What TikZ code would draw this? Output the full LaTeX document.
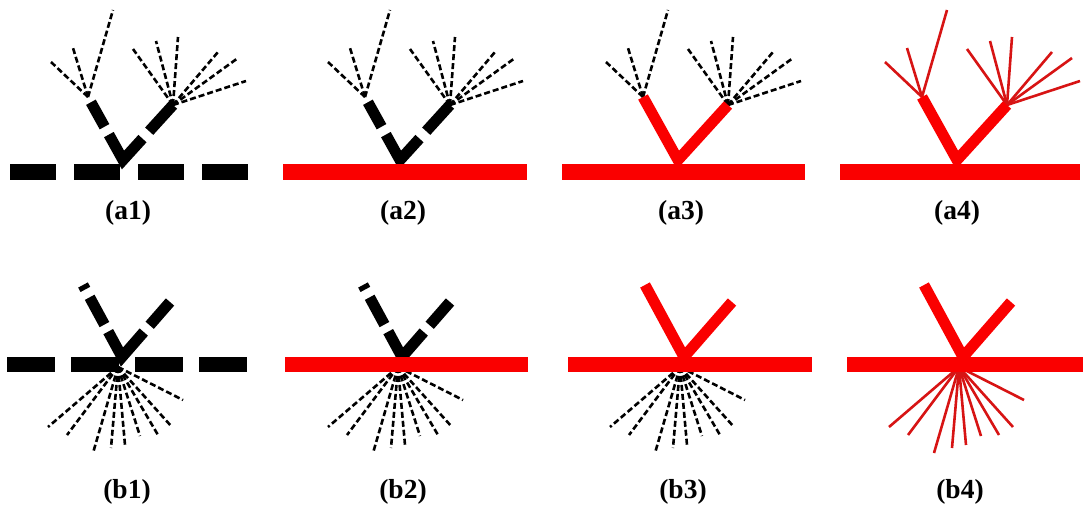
\documentclass[tikz,border=0pt]{standalone}
\usepackage{fontspec}
\setmainfont{Liberation Serif}
\definecolor{rd}{RGB}{250,0,0}
\definecolor{rdthin}{RGB}{215,20,20}

% Upper row: a stem branching in a V above the base bar, each arm ending in a fan
% #1 name, #2 junction x, #3/#4 bar ends, #5 bar style, #6 arm style, #7 fan style, #8 label x
\newcommand\drawpanelA[8]{%
  \coordinate (#1J) at (#2,160);
  \coordinate (#1L) at ([shift={(-35,-63)}]#1J);
  \coordinate (#1R) at ([shift={(50,-55)}]#1J);
  \coordinate (#1B0) at (#3,172);
  \coordinate (#1B1) at (#4,172);
  \foreach \dx/\dy in {-37/-35,-15/-49,25/-87}
    \draw[#7] (#1L) -- ++(\dx,\dy);
  \foreach \dx/\dy in {-40/-56,-17/-64,5/-68,45/-53,65/-47,73/-24}
    \draw[#7] (#1R) -- ++(\dx,\dy);
  \draw[#6] (#1L) -- (#1J) -- (#1R);
  \draw[#5, line width=16pt] (#1B0) -- (#1B1);
  \node[lab] (#1lab) at (#8,213) {(#1)};
}

% Lower row: the V crosses the base bar and a fan spreads below it
\newcommand\drawpanelB[8]{%
  \coordinate (#1J) at (#2,357);
  \coordinate (#1L) at ([shift={(-39,-72)}]#1J);
  \coordinate (#1R) at ([shift={(48,-55)}]#1J);
  \coordinate (#1O) at ([shift={(-4,10)}]#1J);
  \coordinate (#1B0) at (#3,364);
  \coordinate (#1B1) at (#4,364);
  \foreach \dx/\dy in {-70/60,-51/68,-25/86,-7/81,7/78,22/69,40/68,54/60,65/33}
    \draw[#7] (#1O) -- ++(\dx,\dy);
  \draw[#6] (#1L) -- (#1J) -- (#1R);
  \draw[#5, line width=15pt] (#1B0) -- (#1B1);
  \node[lab] (#1lab) at (#8,492) {(#1)};
}

\begin{document}
\begin{tikzpicture}[x=1pt,y=-1pt,
  lab/.style={font=\fontsize{27.5}{31}\selectfont\bfseries, inner sep=0pt},
  bardashA/.style={black, dash pattern=on 46pt off 18pt},
  bardashB/.style={black, dash pattern=on 48pt off 16pt},
  barred/.style={rd},
  armdashA/.style={black, line width=11pt, line join=miter,
    dash pattern=on 28pt off 9pt on 58pt off 10pt on 40pt off 6pt, dash phase=145pt},
  armdashB/.style={black, line width=11pt, line join=miter,
    dash pattern=on 5pt off 9pt on 31pt off 8pt on 62pt off 9pt on 35pt off 5pt},
  armred/.style={rd, line width=11pt, line join=miter},
  fandash/.style={black, line width=2.6pt, dash pattern=on 6pt off 3pt},
  fanred/.style={rdthin, line width=2.6pt}]
\useasboundingbox (0,0) rectangle (1084,506);

\drawpanelA{a1}{123}{10}{248}{bardashA}{armdashA}{fandash}{128}
\drawpanelA{a2}{400}{283}{527}{barred}{armdashA}{fandash}{403}
\drawpanelA{a3}{678}{562}{805}{barred}{armred}{fandash}{681}
\drawpanelA{a4}{957}{840}{1080}{barred}{armred}{fanred}{957}

\drawpanelB{b1}{122}{7}{247}{bardashB}{armdashB}{fandash}{127}
\drawpanelB{b2}{402}{285}{528}{barred}{armdashB}{fandash}{403}
\drawpanelB{b3}{684}{568}{812}{barred}{armred}{fandash}{683}
\drawpanelB{b4}{963}{847}{1083}{barred}{armred}{fanred}{960}
\end{tikzpicture}
\end{document}
